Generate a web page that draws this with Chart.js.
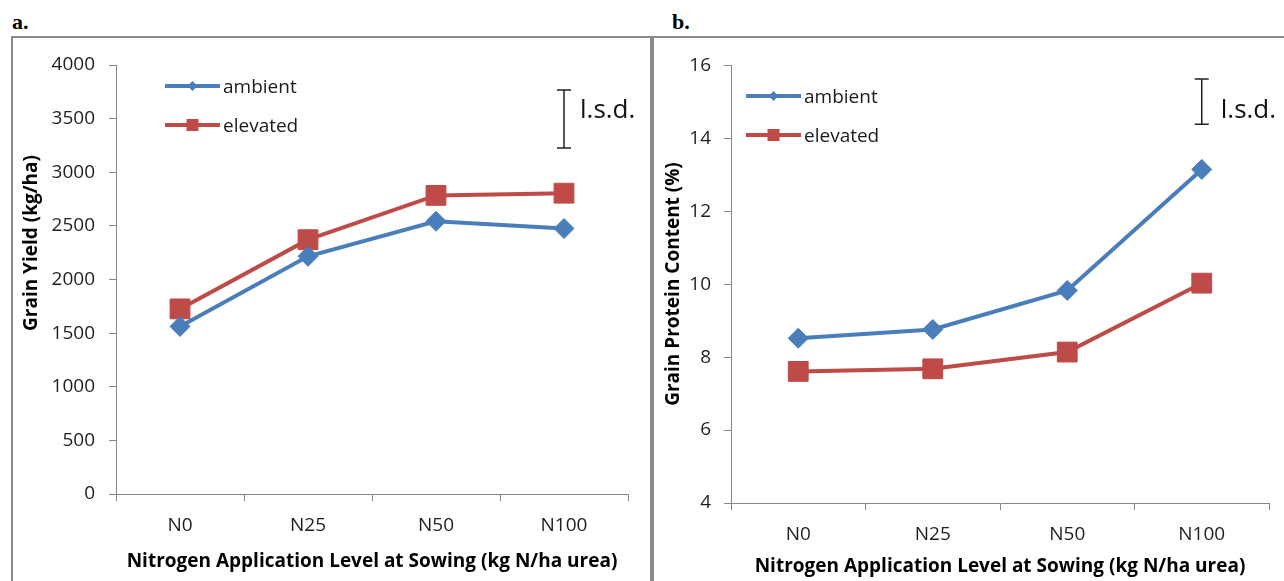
<!DOCTYPE html>
<html>
<head>
<meta charset="utf-8">
<script src="https://cdn.jsdelivr.net/npm/chart.js"></script>
<style>
  body { margin: 0; background: #fff; width: 1284px; height: 581px; overflow: hidden; position: relative; }
  .panel { position: absolute; top: 36px; height: 570px; border: 2px solid #8a8a8a; box-sizing: border-box; }
  #panelA { left: 11px; width: 641px; }
  #panelB { left: 652px; width: 660px; }
  .tag { position: absolute; top: 11px; font: bold 22px 'Liberation Serif'; line-height: 22px; color: #000; }
  canvas { position: absolute; top: 38px; }
  #chartA { left: 13px; }
  #chartB { left: 654px; }
</style>
</head>
<body>
<div class="panel" id="panelA"></div>
<div class="panel" id="panelB"></div>
<div class="tag" style="left:12px">a.</div>
<div class="tag" style="left:672px">b.</div>
<canvas id="chartA" width="637" height="543"></canvas>
<canvas id="chartB" width="630" height="543"></canvas>

<script>
const categories = ['N0', 'N25', 'N50', 'N100'];
const seriesNames = ['ambient', 'elevated'];

// panel a: grain yield (kg/ha)
const yieldAmbient = [1562, 2216, 2543, 2475];
const yieldElevated = [1726, 2371, 2784, 2805];
const yieldLsd = [3226, 3767];

// panel b: grain protein (%)
const proteinAmbient = [8.52, 8.76, 9.83, 13.15];
const proteinElevated = [7.61, 7.68, 8.14, 10.03];
const proteinLsd = [14.39, 15.63];

const BLUE = '#4a7ebb';
const RED = '#be4b48';
const AXIS = '#868686';
const FONT = "'Open Sans'";

// legend, l.s.d. bar and rotated y title drawn on top of the chart
const extras = {
    id: 'extras',
    afterDatasetsDraw(chart, args, o) {
        const ctx = chart.ctx;
        const xs = chart.scales.x, ys = chart.scales.y;

        // l.s.d. bar at the last category
        const px = xs.getPixelForValue(categories.length - 1);
        const top = ys.getPixelForValue(o.lsd[1]);
        const bot = ys.getPixelForValue(o.lsd[0]);
        ctx.save();
        ctx.strokeStyle = '#222';
        ctx.lineWidth = 1.5;
        ctx.beginPath();
        ctx.moveTo(px, top); ctx.lineTo(px, bot);
        ctx.moveTo(px - 7, top); ctx.lineTo(px + 7, top);
        ctx.moveTo(px - 7, bot); ctx.lineTo(px + 7, bot);
        ctx.stroke();
        ctx.fillStyle = '#111';
        ctx.font = '26px ' + FONT;
        ctx.textAlign = 'left';
        ctx.textBaseline = 'alphabetic';
        ctx.fillText('l.s.d.', px + o.lsdGap, 80);

        // legend
        chart.data.datasets.forEach((ds, i) => {
            const y = o.legendY + i * 39;
            const x0 = o.legendX, x1 = o.legendX + 55, cx = (x0 + x1) / 2;
            ctx.strokeStyle = ds.borderColor;
            ctx.lineWidth = 4;
            ctx.beginPath(); ctx.moveTo(x0, y); ctx.lineTo(x1, y); ctx.stroke();
            ctx.fillStyle = ds.borderColor;
            ctx.beginPath();
            if (ds.pointStyle === 'rectRot') {
                ctx.moveTo(cx - 5, y); ctx.lineTo(cx, y - 5); ctx.lineTo(cx + 5, y); ctx.lineTo(cx, y + 5);
            } else {
                ctx.rect(cx - 6, y - 6, 12, 12);
            }
            ctx.closePath();
            ctx.fill();
            ctx.fillStyle = '#1a1a1a';
            ctx.font = '19px ' + FONT;
            ctx.fillText(ds.label, x1 + 3, y + 7);
        });

        // y axis title
        ctx.translate(o.titleX, o.titleY);
        ctx.rotate(-Math.PI / 2);
        ctx.textAlign = 'center';
        ctx.textBaseline = 'middle';
        ctx.font = 'bold 19px ' + FONT;
        ctx.fillStyle = '#000';
        ctx.fillText(o.title, 0, 0);
        ctx.restore();
    }
};

function renderChart(id, a, e, yOpts, extraOpts, layout) {
    return new Chart(document.getElementById(id), {
        type: 'line',
        data: {
            labels: categories,
            datasets: [{
                label: seriesNames[0],
                data: a,
                borderColor: BLUE,
                backgroundColor: BLUE,
                borderWidth: 4,
                pointStyle: 'rectRot',
                pointRadius: 10,
                pointBorderWidth: 1,
                tension: 0
            }, {
                label: seriesNames[1],
                data: e,
                borderColor: RED,
                backgroundColor: RED,
                borderWidth: 4,
                pointStyle: 'rect',
                pointRadius: 14,
                pointBorderWidth: 1,
                tension: 0
            }]
        },
        options: {
            responsive: false,
            animation: false,
            events: [],
            clip: false,
            layout: { padding: layout.padding },
            scales: {
                x: {
                    offset: true,
                    afterFit: s => { s.height = layout.xHeight; },
                    grid: { drawOnChartArea: false, offset: true, tickLength: 7, color: AXIS },
                    border: { color: AXIS, width: 1 },
                    ticks: { color: '#1f1f1f', padding: 13, font: { family: FONT, size: 19 } },
                    title: {
                        display: true,
                        text: 'Nitrogen Application Level at Sowing (kg N/ha urea)',
                        color: '#000',
                        font: { family: FONT, size: 19, weight: 'bold' },
                        padding: { top: 0, bottom: layout.titlePad }
                    }
                },
                y: {
                    min: yOpts.min,
                    max: yOpts.max,
                    afterFit: s => { s.width = layout.yWidth; },
                    grid: { drawOnChartArea: false, tickLength: 7, color: AXIS },
                    border: { color: AXIS, width: 1 },
                    ticks: {
                        stepSize: yOpts.step,
                        color: '#1f1f1f',
                        padding: layout.yPad,
                        font: { family: FONT, size: 19 },
                        callback: v => String(v)
                    }
                }
            },
            plugins: {
                legend: { display: false },
                tooltip: { enabled: false },
                extras: extraOpts
            }
        },
        plugins: [extras]
    });
}

document.fonts.load('19px "Open Sans"').then(() => document.fonts.load('bold 19px "Open Sans"')).finally(() => {
    renderChart('chartA', yieldAmbient, yieldElevated,
        { min: 0, max: 4000, step: 500 },
        { lsd: yieldLsd, lsdGap: 16, legendX: 152, legendY: 48, title: 'Grain Yield (kg/ha)', titleX: 18.5, titleY: 205 },
        { padding: { top: 27, right: 22, left: 0, bottom: 0 }, xHeight: 87, yWidth: 103, yPad: 14, titlePad: 8 });

    renderChart('chartB', proteinAmbient, proteinElevated,
        { min: 4, max: 16, step: 2 },
        { lsd: proteinLsd, lsdGap: 19, legendX: 92, legendY: 58, title: 'Grain Protein Content (%)', titleX: 20, titleY: 246 },
        { padding: { top: 27.5, right: 14, left: 0, bottom: 0 }, xHeight: 78, yWidth: 77, yPad: 13, titlePad: 3 });
});
</script>
</body>
</html>
